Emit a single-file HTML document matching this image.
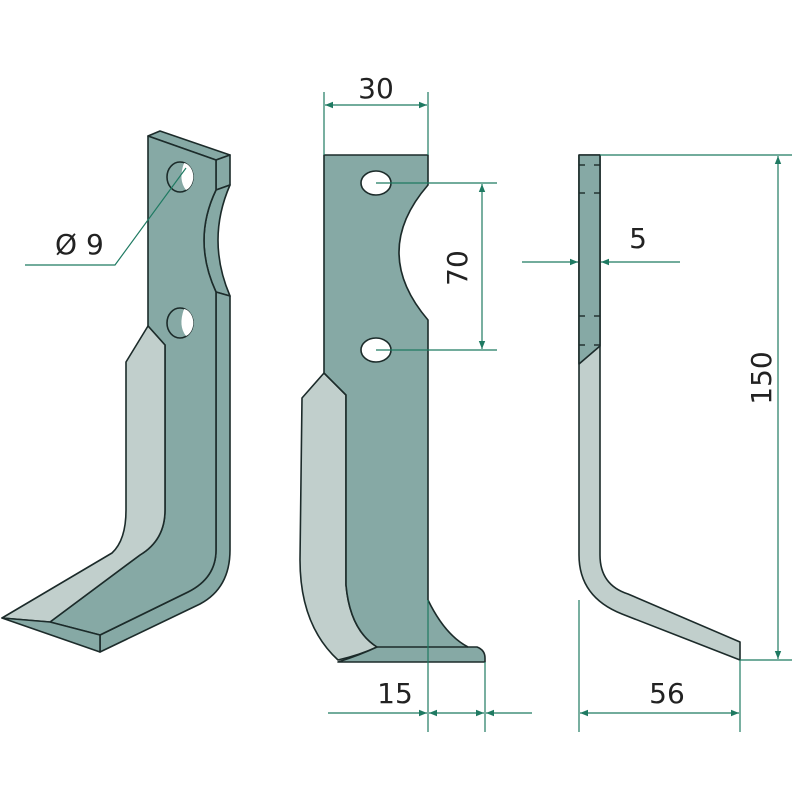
<!DOCTYPE html>
<html><head><meta charset="utf-8"><style>html,body{margin:0;padding:0;background:#fff}svg{display:block}</style></head>
<body>
<svg width="800" height="800" viewBox="0 0 800 800" xmlns="http://www.w3.org/2000/svg">
<defs>
<marker id="a" viewBox="0 0 10 10" refX="10" refY="5" markerWidth="12" markerHeight="8" orient="auto-start-reverse" markerUnits="userSpaceOnUse"><path d="M0,1 L10,5 L0,9 Z" fill="#1f7a62"/></marker>
</defs>
<g stroke="#1c2b2a" stroke-width="1.6" stroke-linejoin="round">
<!-- LEFT PART -->
<polygon points="148,136 160,131 230,155 216,160" fill="#86a9a5"/>
<polygon points="216,160 230,155 230,185 216,190" fill="#86a9a5"/>
<path d="M216,190 L230,185 Q206,240 230,296 L216,292 Q192,240 216,190 Z" fill="#86a9a5"/>
<path d="M216,292 L230,296 L230,550 Q230,588 200,604 L100,652 L100,635 L188,592 Q216,578 216,550 Z" fill="#86a9a5"/>
<path d="M148,136 L216,160 L216,190 Q192,240 216,292 L216,550 Q216,578 188,592 L100,635 L50,622 L140,555 Q165,540 165,510 L165,345 L148,326 Z" fill="#86a9a5"/>
<path d="M148,326 L165,345 L165,510 Q165,540 140,555 L50,622 L2,618 L112,553 Q126,540 126,510 L126,362 Z" fill="#c1cfcc"/>
<polygon points="2,618 50,622 100,635 100,652" fill="#86a9a5"/>
<ellipse cx="180" cy="177" rx="13" ry="15" fill="#86a9a5"/>
<path d="M184,163 A11,14 0 0 1 186,190 Q178,180 184,163 Z" fill="#fff" stroke="none"/>
<ellipse cx="180" cy="323" rx="13" ry="15" fill="#86a9a5"/>
<path d="M184,309 A11,14 0 0 1 186,336 Q178,326 184,309 Z" fill="#fff" stroke="none"/>
<!-- MIDDLE PART -->
<path d="M346,395 L346,585 Q350,630 377,647 Q360,655 338,660 Q300,625 300,560 L302,398 L324,373 Z" fill="#c1cfcc"/>
<path d="M324,155 L428,155 L428,185 Q370,252 428,320 L428,600 Q445,635 468,647 L477,647 Q485,650 485,658 L485,662 L338,662 Q360,655 377,647 Q350,630 346,585 L346,395 L324,373 Z" fill="#86a9a5"/>
<line x1="377" y1="647" x2="468" y2="647"/>
<ellipse cx="376" cy="183" rx="15" ry="12" fill="#fff"/>
<ellipse cx="376" cy="350" rx="15" ry="12" fill="#fff"/>
<!-- RIGHT PART -->
<path d="M579,155 L600,155 L600,555 Q600,585 628,594 L740,642 L740,660 L622,614 Q579,597 579,555 Z" fill="#c1cfcc"/>
<polygon points="579,155 600,155 600,346 579,364" fill="#86a9a5"/>
</g>
<g stroke="#1c2b2a" stroke-width="1.4">
<line x1="579" y1="165" x2="585" y2="165"/><line x1="594" y1="165" x2="600" y2="165"/>
<line x1="579" y1="193" x2="585" y2="193"/><line x1="594" y1="193" x2="600" y2="193"/>
<line x1="579" y1="316" x2="585" y2="316"/><line x1="594" y1="316" x2="600" y2="316"/>
<line x1="579" y1="345" x2="585" y2="345"/><line x1="594" y1="345" x2="600" y2="345"/>
</g>
<!-- DIMENSIONS -->
<g stroke="#1f7a62" stroke-width="1.2" fill="none">
<polyline points="25,265 115,265 186,168"/>
<line x1="324" y1="92" x2="324" y2="155"/><line x1="428" y1="92" x2="428" y2="155"/>
<line x1="325" y1="105" x2="427" y2="105" marker-start="url(#a)" marker-end="url(#a)"/>
<line x1="376" y1="183" x2="497" y2="183"/><line x1="376" y1="350" x2="497" y2="350"/>
<line x1="482" y1="184" x2="482" y2="349" marker-start="url(#a)" marker-end="url(#a)"/>
<line x1="428" y1="600" x2="428" y2="732"/><line x1="485" y1="662" x2="485" y2="732"/>
<line x1="328" y1="713" x2="427" y2="713" marker-end="url(#a)"/>
<line x1="429" y1="713" x2="484" y2="713" marker-start="url(#a)" marker-end="url(#a)"/>
<line x1="532" y1="713" x2="486" y2="713" marker-end="url(#a)"/>
<line x1="600" y1="155" x2="792" y2="155"/><line x1="740" y1="660" x2="792" y2="660"/>
<line x1="778" y1="156" x2="778" y2="659" marker-start="url(#a)" marker-end="url(#a)"/>
<line x1="522" y1="262" x2="578" y2="262" marker-end="url(#a)"/>
<line x1="680" y1="262" x2="601" y2="262" marker-end="url(#a)"/>
<line x1="579" y1="600" x2="579" y2="732"/><line x1="740" y1="660" x2="740" y2="732"/>
<line x1="580" y1="713" x2="739" y2="713" marker-start="url(#a)" marker-end="url(#a)"/>
</g>
<g font-family="'DejaVu Sans','Liberation Sans',sans-serif" font-size="28" fill="#222">
<text x="55" y="254">Ø 9</text>
<text x="376" y="98" text-anchor="middle">30</text>
<text x="0" y="0" text-anchor="middle" transform="translate(467,268) rotate(-90)">70</text>
<text x="395" y="703" text-anchor="middle">15</text>
<text x="638" y="248" text-anchor="middle">5</text>
<text x="0" y="0" text-anchor="middle" transform="translate(771,378) rotate(-90)">150</text>
<text x="667" y="703" text-anchor="middle">56</text>
</g>
</svg>
</body></html>
